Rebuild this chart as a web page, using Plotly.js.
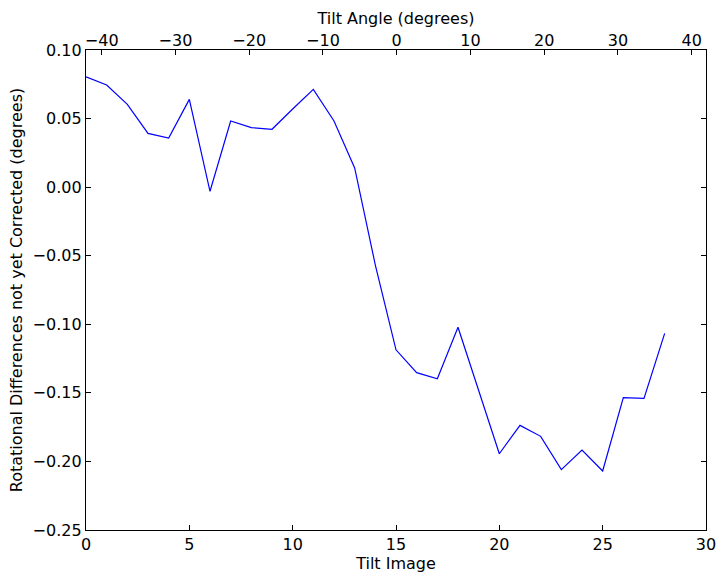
<!DOCTYPE html>
<html>
<head>
<meta charset="utf-8">
<script src="https://cdn.plot.ly/plotly-3.0.1.min.js"></script>
<style>html,body{margin:0;padding:0;background:#fff;}#chart{width:725px;height:579px;}</style>
</head>
<body>
<div id="chart"></div>
<script>
const tiltImage = [0,1,2,3,4,5,6,7,8,9,10,11,12,13,14,15,16,17,18,19,20,21,22,23,24,25,26,27,28];
const rotationalDiff = [0.0805,0.0745,0.0604,0.0392,0.0358,0.0640,-0.0030,0.0482,0.0434,0.0422,0.0570,0.0713,0.0482,0.0140,-0.0568,-0.1186,-0.1353,-0.1397,-0.1022,-0.1480,-0.1944,-0.1737,-0.1817,-0.2060,-0.1917,-0.2070,-0.1535,-0.1540,-0.1066];
const yTicks = [0.10,0.05,0.00,-0.05,-0.10,-0.15,-0.20,-0.25];
const xTicks = [0,5,10,15,20,25,30];
const angleTicks = [-40,-30,-20,-10,0,10,20,30,40];

const font = {family: 'DejaVu Sans', size: 16, color: '#000'};
const data = [
  {x: tiltImage, y: rotationalDiff, type: 'scatter', mode: 'lines',
   line: {color: '#0000ff', width: 1.2}, hoverinfo: 'skip', showlegend: false},
  {x: [], y: [], type: 'scatter', mode: 'lines', xaxis: 'x2', yaxis: 'y',
   hoverinfo: 'skip', showlegend: false}
];
const layout = {
  width: 725, height: 579,
  margin: {l: 86, r: 19, t: 50, b: 49},
  paper_bgcolor: '#fff', plot_bgcolor: '#fff',
  font: font,
  showlegend: false,
  xaxis: {
    range: [0, 30], tickvals: xTicks, ticktext: xTicks.map(String),
    ticks: 'inside', ticklen: 5, tickcolor: '#000', tickwidth: 1,
    showline: true, linecolor: '#000', linewidth: 1.2, mirror: true,
    showgrid: false, zeroline: false,
    title: {text: 'Tilt Image', font: font, standoff: 2},
    tickfont: font
  },
  xaxis2: {
    overlaying: 'x', side: 'top', anchor: 'y',
    range: [-42.13, 41.94], tickvals: angleTicks,
    ticks: 'inside', ticklen: 5, tickcolor: '#000', tickwidth: 1,
    showline: false, showgrid: false, zeroline: false,
    title: {text: 'Tilt Angle (degrees)', font: font, standoff: 2},
    tickfont: font
  },
  yaxis: {
    range: [-0.25, 0.10], tickvals: yTicks, tickformat: '.2f',
    ticks: 'inside', ticklen: 5, tickcolor: '#000', tickwidth: 1,
    showline: true, linecolor: '#000', linewidth: 1.2, mirror: 'ticks',
    showgrid: false, zeroline: false,
    title: {text: 'Rotational Differences not yet Corrected (degrees)', font: font, standoff: 6},
    tickfont: font
  }
};
Plotly.newPlot('chart', data, layout, {staticPlot: true, displayModeBar: false});
</script>
</body>
</html>
